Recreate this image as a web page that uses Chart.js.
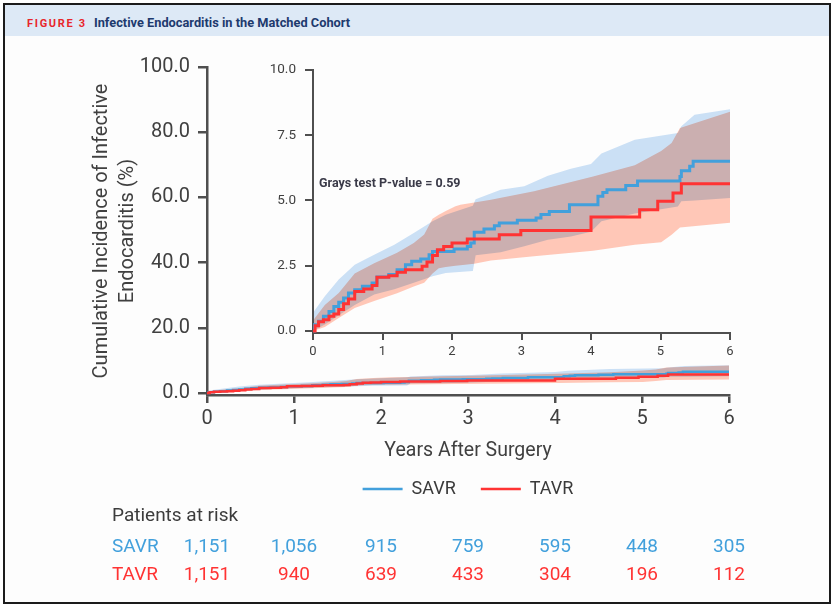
<!DOCTYPE html>
<html><head><meta charset="utf-8">
<script src="https://cdn.jsdelivr.net/npm/chart.js@4.4.0/dist/chart.umd.min.js"></script>
<style>
html,body{margin:0;padding:0;background:#fff;}
#page{position:relative;width:836px;height:607px;overflow:hidden;background:#fff;font-family:Roboto,sans-serif;}
#frame{position:absolute;left:3px;top:3px;width:828px;height:601px;border:2px solid #1b1b1b;box-sizing:border-box;background:#fdfdfd;}
#band{position:absolute;left:0;top:0;right:0;height:31px;background:#dde9f6;}
#hdr{position:absolute;left:27px;top:15px;white-space:nowrap;font-weight:bold;line-height:14px;}
#fig{color:#e8262b;font-size:11px;letter-spacing:1.7px;}
#ttl{color:#1d3a6e;font-size:12.8px;margin-left:7px;}
canvas{position:absolute;}
</style></head>
<body><div id="page">
<div id="frame"><div id="band"></div></div>
<div id="hdr"><span id="fig">FIGURE 3</span><span id="ttl">Infective Endocarditis in the Matched Cohort</span></div>
<canvas id="main" width="836" height="607" style="left:0;top:0"></canvas>
<canvas id="inset" width="500" height="315" style="left:250px;top:50px"></canvas>
</div>
<script>
// ---- data ----
const years = [0,1,2,3,4,5,6];
const savrAtRisk = ['1,151','1,056','915','759','595','448','305'];
const tavrAtRisk = ['1,151','940','639','433','304','196','112'];
const mainYTicks = [0,20,40,60,80,100];
const insetYTicks = [0,2.5,5,7.5,10];
const pValueText = 'Grays test P-value = 0.59';

const savrTime = [0,0.02,0.08,0.15,0.23,0.3,0.37,0.44,0.51,0.6,0.71,0.85,0.92,1.09,1.21,1.33,1.42,1.55,1.67,1.72,2.03,2.22,2.27,2.32,2.46,2.61,2.68,2.94,3.21,3.28,3.4,3.69,4.1,4.17,4.23,4.5,4.67,5.28,5.3,5.42,5.47,6.0];
const savrIncidence = [0,0.24,0.37,0.56,0.75,0.94,1.1,1.26,1.46,1.58,1.71,1.84,2.07,2.16,2.35,2.54,2.67,2.76,2.92,3.05,3.14,3.24,3.37,3.78,3.91,4.03,4.14,4.24,4.33,4.46,4.58,4.84,5.16,5.31,5.41,5.57,5.75,5.92,6.14,6.31,6.5,6.5];
const tavrTime = [0,0.03,0.08,0.15,0.23,0.3,0.37,0.44,0.51,0.6,0.73,0.85,0.92,1.09,1.21,1.33,1.57,1.64,1.72,1.79,1.88,2.0,2.22,2.68,2.99,4.0,4.7,4.96,5.18,5.3,6.0];
const tavrIncidence = [0,0.2,0.35,0.43,0.56,0.65,0.82,1.04,1.23,1.51,1.61,1.74,2.06,2.12,2.25,2.35,2.48,2.64,2.89,3.11,3.24,3.37,3.52,3.69,3.85,4.37,4.65,4.97,5.29,5.64,5.64];

const savrBandTime = [0,0.17,0.37,0.6,0.88,1.17,1.45,1.72,1.91,2.3,2.34,2.7,3.04,3.38,3.71,4.0,4.15,4.63,5.25,5.3,5.49,6.0];
const savrUpper = [0.7,1.33,1.97,2.54,2.92,3.3,3.75,4.2,4.45,4.8,5.05,5.41,5.55,5.95,6.22,6.4,6.8,7.33,7.59,7.84,8.29,8.5];
const savrLower = [0,0.25,0.6,1.0,1.4,1.6,1.85,2.1,2.22,2.3,2.9,3.02,3.25,3.5,3.62,3.8,4.2,4.5,4.77,4.97,5.0,5.1];
const tavrBandTime = [0,0.17,0.37,0.6,0.88,1.21,1.45,1.6,1.72,1.81,1.91,2.05,2.12,2.32,2.56,3.18,4.03,4.63,5.01,5.16,5.28,6.0];
const tavrUpper = [0.4,1.0,1.46,2.2,2.6,3.0,3.37,3.7,4.3,4.45,4.6,4.78,4.84,4.92,5.03,5.35,5.92,6.35,6.9,7.2,7.78,8.4];
const tavrLower = [0,0.15,0.5,0.88,1.15,1.45,1.7,1.85,2.2,2.4,2.45,2.5,2.52,2.58,2.7,2.86,3.07,3.3,3.4,3.69,3.97,4.15];

// ---- style ----
const BLUE = '#42a0dc', RED = '#ff3333';
const BLUE_FILL = '#cbe0f5', RED_FILL = '#ffc7b7';
const AXIS = '#4f4f4f', TXT = '#404040';
Chart.defaults.font.family = 'Roboto';

const pts = (t, v) => t.map((x, i) => ({x, y: v[i]}));
function makeDatasets(lw) {
  const band = (t, v, fill, bg, order) => ({label: '', data: pts(t, v), borderWidth: 0, borderColor: 'transparent',
    backgroundColor: bg, pointRadius: 0, fill, order, tension: 0});
  return [
    {label: 'SAVR', data: pts(savrTime, savrIncidence), borderColor: BLUE, backgroundColor: BLUE, borderWidth: lw, stepped: true, pointRadius: 0, fill: false, order: 2},
    {label: 'TAVR', data: pts(tavrTime, tavrIncidence), borderColor: RED, backgroundColor: RED, borderWidth: lw, stepped: true, pointRadius: 0, fill: false, order: 1},
    band(savrBandTime, savrUpper, '+1', BLUE_FILL, 3),
    band(savrBandTime, savrLower, false, BLUE_FILL, 4),
    band(tavrBandTime, tavrUpper, '+1', RED_FILL, 5),
    band(tavrBandTime, tavrLower, false, RED_FILL, 6)
  ];
}
const multiplyFills = {
  id: 'multiplyFills',
  beforeRender(chart) { chart.ctx.globalCompositeOperation = 'multiply'; },
  beforeDraw(chart) { chart.ctx.globalCompositeOperation = 'source-over'; }
};
const riskTable = {
  id: 'riskTable',
  afterDraw(chart) {
    const {ctx, chartArea, scales: {x}} = chart;
    const b = chartArea.bottom, lx = chartArea.left - 95;
    ctx.save();
    ctx.font = '19px Roboto';
    ctx.textBaseline = 'middle';
    ctx.textAlign = 'left';
    ctx.fillStyle = '#3c3c3c';
    ctx.fillText('Patients at risk', lx, b + 121);
    [['SAVR', savrAtRisk, BLUE, 152], ['TAVR', tavrAtRisk, RED, 180]].forEach(([name, vals, col, dy]) => {
      ctx.fillStyle = col;
      ctx.textAlign = 'left';
      ctx.fillText(name, lx, b + dy);
      ctx.textAlign = 'center';
      vals.forEach((v, i) => ctx.fillText(v, x.getPixelForValue(years[i]), b + dy));
    });
    ctx.restore();
  }
};
const pValue = {
  id: 'pValue',
  afterDraw(chart) {
    const {ctx, chartArea} = chart;
    ctx.save();
    ctx.font = 'bold 12.5px Roboto';
    ctx.fillStyle = '#3a3a48';
    ctx.textBaseline = 'middle';
    ctx.textAlign = 'left';
    ctx.fillText(pValueText, chartArea.left + 6, chartArea.top + 114);
    ctx.restore();
  }
};
const axisGrid = (len, w) => ({drawOnChartArea: false, drawTicks: true, tickLength: len, color: AXIS, lineWidth: w});

new Chart(document.getElementById('main'), {
  type: 'line',
  data: {datasets: makeDatasets(2.5)},
  options: {
    responsive: false, animation: false, events: [],
    layout: {padding: {top: 67, right: 107, bottom: 99, left: 0}},
    plugins: {
      tooltip: {enabled: false},
      filler: {drawTime: 'beforeDraw'},
      legend: {position: 'bottom', fullSize: false,
        labels: {usePointStyle: true, pointStyle: 'line', pointStyleWidth: 40, padding: 25,
          font: {size: 18}, color: '#3a3a3a', filter: item => item.datasetIndex < 2,
          sort: (a, b) => a.datasetIndex - b.datasetIndex}}
    },
    scales: {
      x: {type: 'linear', min: 0, max: 6,
        ticks: {stepSize: 1, font: {size: 20}, color: TXT, padding: 4},
        grid: axisGrid(8, 2.5), border: {color: AXIS, width: 2.5},
        title: {display: true, text: 'Years After Surgery', font: {size: 19.5}, color: TXT, padding: {top: 0, bottom: -8}},
        afterFit: s => { s.height = 60; }},
      y: {type: 'linear', min: -0.62, max: 100,
        afterBuildTicks: s => { s.ticks = mainYTicks.map(v => ({value: v})); },
        ticks: {font: {size: 20}, color: TXT, padding: 8, callback: v => Number(v).toFixed(1)},
        grid: axisGrid(9, 2.5), border: {color: AXIS, width: 2.5},
        title: {display: true, text: ['Cumulative Incidence of Infective', 'Endocarditis (%)'],
          font: {size: 20, lineHeight: 1.3}, color: TXT, padding: {top: 89, bottom: 0}},
        afterFit: s => { s.width = 207; }}
    }
  },
  plugins: [multiplyFills, riskTable]
});

new Chart(document.getElementById('inset'), {
  type: 'line',
  data: {datasets: makeDatasets(3)},
  options: {
    responsive: false, animation: false, events: [],
    layout: {padding: {top: 20, right: 20, bottom: 0, left: 0}},
    plugins: {tooltip: {enabled: false}, legend: {display: false}, filler: {drawTime: 'beforeDraw'}},
    scales: {
      x: {type: 'linear', min: 0, max: 6,
        ticks: {stepSize: 1, font: {size: 13}, color: TXT, padding: 4},
        grid: axisGrid(7, 2), border: {color: AXIS, width: 2},
        afterFit: s => { s.height = 32; }},
      y: {type: 'linear', min: -0.077, max: 10,
        afterBuildTicks: s => { s.ticks = insetYTicks.map(v => ({value: v})); },
        ticks: {font: {size: 13.5}, color: TXT, padding: 9, callback: v => Number(v).toFixed(1)},
        grid: axisGrid(8, 2), border: {color: AXIS, width: 2},
        afterFit: s => { s.width = 63; }}
    }
  },
  plugins: [multiplyFills, pValue]
});
</script>
</body></html>
